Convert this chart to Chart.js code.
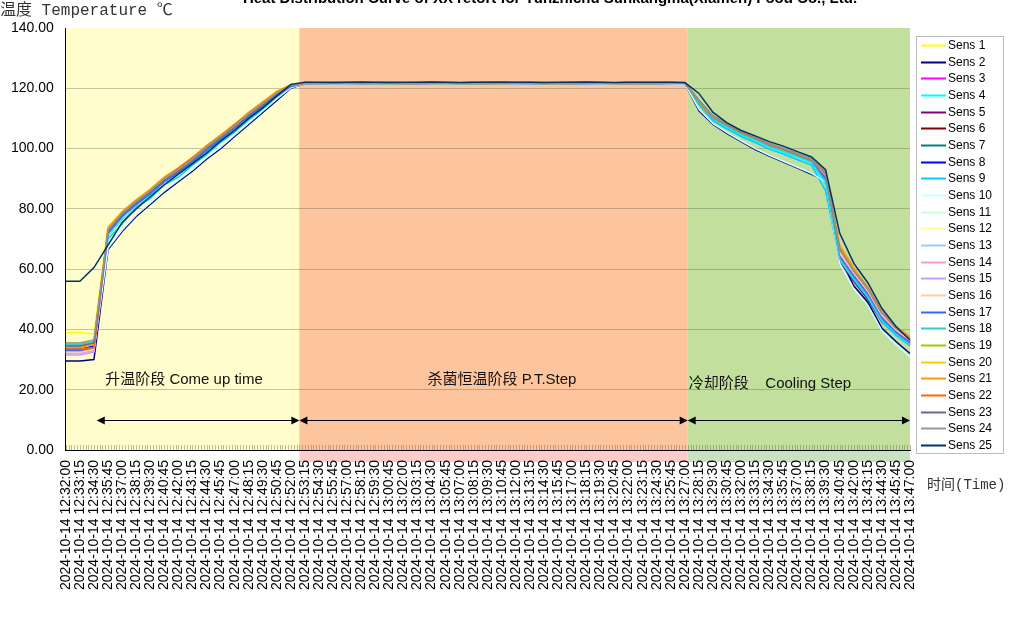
<!DOCTYPE html>
<html>
<head>
<meta charset="utf-8">
<script src="https://cdn.jsdelivr.net/npm/chart.js@4.4.1/dist/chart.umd.min.js"></script>
<style>
  html, body { margin: 0; padding: 0; background: #fff; }
  #wrap { width: 1021px; height: 633px; position: relative; }
</style>
</head>
<body>
<div id="wrap"><canvas id="heatChart"></canvas></div>
<script>
// 测点时间 (每 75 秒一个标签)
const day = "2024-10-14";
const times = [
  "12:32:00","12:33:15","12:34:30","12:35:45","12:37:00","12:38:15","12:39:30","12:40:45","12:42:00","12:43:15",
  "12:44:30","12:45:45","12:47:00","12:48:15","12:49:30","12:50:45","12:52:00","12:53:15","12:54:30","12:55:45",
  "12:57:00","12:58:15","12:59:30","13:00:45","13:02:00","13:03:15","13:04:30","13:05:45","13:07:00","13:08:15",
  "13:09:30","13:10:45","13:12:00","13:13:15","13:14:30","13:15:45","13:17:00","13:18:15","13:19:30","13:20:45",
  "13:22:00","13:23:15","13:24:30","13:25:45","13:27:00","13:28:15","13:29:30","13:30:45","13:32:00","13:33:15",
  "13:34:30","13:35:45","13:37:00","13:38:15","13:39:30","13:40:45","13:42:00","13:43:15","13:44:30","13:45:45",
  "13:47:00"
];

// 各测点温度 (升温 17 点 / 恒温 27 点 / 冷却 17 点)
const sens01 = [39,39,38.5,74,79,82.5,86,90,93,96.5,100.5,104,107.5,111.5,115,118.5,121,
  121.8,121.9,121.8,121.8,121.9,121.8,121.8,121.9,121.8,121.8,121.9,121.8,121.8,121.8,121.9,121.8,121.8,121.9,121.8,121.8,121.8,121.9,121.8,121.8,121.9,121.8,121.8,
  121.8,115.8,110.5,108,105.5,103.6,101.4,99.9,98.1,96.2,91.5,66,59,53,45,40,36.5];
const sens02 = [29.5,29.5,30,66.5,72.5,77.5,81.5,85.5,89,92.5,96.5,100,104,108,112,116,120,
  121.5,121.6,121.5,121.5,121.6,121.5,121.5,121.6,121.5,121.6,121.5,121.5,121.6,121.5,121.5,121.6,121.5,121.6,121.5,121.5,121.6,121.5,121.5,121.6,121.5,121.6,121.5,
  121.5,112.5,108,105,102.3,99.7,97.5,95.5,93.5,91.5,89.5,64,54.5,49,40.5,36,32];
const sens03 = [33.5,33.5,34.5,72.5,78,81.5,85.5,89,92.5,96,99.5,103.5,107,110.5,114.5,118,120.8,
  121.6,121.7,121.6,121.7,121.7,121.6,121.7,121.6,121.7,121.7,121.6,121.7,121.6,121.7,121.7,121.6,121.7,121.6,121.7,121.7,121.6,121.7,121.6,121.7,121.7,121.6,121.7,
  121.7,115.2,110,107.5,105,103.1,101,99.4,97.6,95.8,90,63.5,57,51,43.5,38.8,35.2];
const sens04 = [34.5,34.5,35.5,71,76.5,80.5,84.5,88,91.5,95,99,102.5,106,110,113.5,117,120.5,
  121.5,121.6,121.5,121.5,121.6,121.5,121.5,121.6,121.5,121.6,121.5,121.5,121.6,121.5,121.5,121.6,121.5,121.6,121.5,121.5,121.6,121.5,121.5,121.6,121.5,121.6,121.5,
  121.6,115,109.6,107,104.6,102.6,100.5,98.8,97,95.2,88,64,57.5,51.5,43.5,38.8,35.5];
const sens05 = [33,33,34,72,77.5,81.5,85,89,92,95.5,99.5,103,106.5,110.5,114,117.5,120.7,
  121.7,121.6,121.7,121.6,121.7,121.7,121.6,121.7,121.6,121.7,121.6,121.7,121.7,121.6,121.7,121.6,121.7,121.7,121.6,121.7,121.6,121.7,121.7,121.6,121.7,121.6,121.7,
  121.7,115.3,110.1,107.6,105.1,103.2,101,99.5,97.7,95.8,90.5,62.5,56,50,42.5,38.5,35];
const sens06 = [34,34,35,72.5,78,82,85.5,89.5,92.5,96,100,103.5,107,111,114.5,118,120.8,
  121.8,121.8,121.9,121.8,121.8,121.9,121.8,121.8,121.8,121.9,121.8,121.8,121.9,121.8,121.8,121.8,121.9,121.8,121.8,121.9,121.8,121.8,121.8,121.9,121.8,121.8,121.9,
  121.8,115.6,110.4,107.9,105.4,103.5,101.3,99.8,98,96.1,91.5,65.5,58.5,52.5,44.5,39.8,36.2];
const sens07 = [35,35,36,72,77.5,81.5,85,89,92,95.5,99.5,103,106.5,110.5,114,117.5,120.6,
  121.6,121.7,121.7,121.6,121.7,121.6,121.7,121.7,121.6,121.7,121.6,121.7,121.7,121.6,121.7,121.6,121.7,121.6,121.7,121.7,121.6,121.7,121.6,121.7,121.7,121.6,121.7,
  121.7,115.4,110.2,107.7,105.2,103.3,101.1,99.6,97.8,95.9,90.5,64.5,58,52,44,39.5,36];
const sens08 = [33.5,33.5,34.5,72.5,78,82,85.5,89.5,92.5,96,100,103.5,107,111,114.5,118,120.8,
  121.9,121.8,121.8,121.9,121.8,121.8,121.9,121.8,121.8,121.8,121.9,121.8,121.8,121.9,121.8,121.8,121.8,121.9,121.8,121.8,121.9,121.8,121.8,121.8,121.9,121.8,121.8,
  121.8,115.5,110.3,107.8,105.3,103.4,101.2,99.7,97.9,96,91,65,58.5,52.5,44.5,39.6,36];
const sens09 = [34,34,35,70,75,80.5,83.5,88,90.5,94.5,98,102,105.5,109.5,113,117,120.5,
  121.6,121.5,121.5,121.6,121.5,121.6,121.5,121.5,121.6,121.5,121.5,121.6,121.5,121.6,121.5,121.5,121.6,121.5,121.5,121.6,121.5,121.6,121.5,121.5,121.6,121.5,121.5,
  121.6,114.5,109.2,106.5,104,102,99.8,98.2,96.3,94.5,86,63,56.5,50.5,42.5,38,34.5];
const sens10 = [32.5,32.5,33,67,73,78,82,86,89.5,93,97,100.5,104.5,108.5,112.5,116.5,120.2,
  121.5,121.5,121.6,121.5,121.5,121.6,121.5,121.6,121.5,121.5,121.6,121.5,121.5,121.6,121.5,121.6,121.5,121.5,121.6,121.5,121.5,121.6,121.5,121.6,121.5,121.5,121.6,
  121.5,113,108.3,105.3,102.6,100,97.8,95.8,93.8,91.8,89,62,53.5,48,39.5,35,31];
const sens11 = [35,35,36,73,78.5,82,86,89.5,93,96.5,100,104,107.5,111,115,118.5,121,
  121.7,121.6,121.7,121.7,121.6,121.7,121.6,121.7,121.7,121.6,121.7,121.6,121.7,121.6,121.7,121.7,121.6,121.7,121.6,121.7,121.7,121.6,121.7,121.6,121.7,121.7,121.6,
  121.7,115.6,110.4,107.9,105.4,103.5,101.3,99.8,98,96.2,91.5,66,59,53,45,40.2,36.8];
const sens12 = [34,34,35,73.5,78.5,82.5,86,90,93,96.5,100.5,104,107.5,111.5,115,118.5,121,
  121.8,121.9,121.8,121.8,121.8,121.9,121.8,121.8,121.9,121.8,121.8,121.8,121.9,121.8,121.8,121.9,121.8,121.8,121.8,121.9,121.8,121.8,121.9,121.8,121.8,121.8,121.9,
  121.8,115.7,110.5,108,105.5,103.6,101.4,99.9,98.1,96.2,92,66.5,59.5,53.5,45.5,40.5,37];
const sens13 = [33,33,34,72,77.5,81.5,85,89,92,95.5,99.5,103,106.5,110.5,114,117.5,120.6,
  121.6,121.7,121.6,121.7,121.6,121.7,121.7,121.6,121.7,121.6,121.7,121.7,121.6,121.7,121.6,121.7,121.6,121.7,121.7,121.6,121.7,121.6,121.7,121.7,121.6,121.7,121.6,
  121.7,115.2,110,107.5,105,103.1,100.9,99.4,97.6,95.7,89.5,63.5,57,51,43,38.5,35];
const sens14 = [32,32,33,72.5,78,82,85.5,89.5,92.5,96,100,103.5,107,111,114.5,118,120.8,
  121.8,121.8,121.9,121.8,121.9,121.8,121.8,121.8,121.9,121.8,121.8,121.9,121.8,121.8,121.8,121.9,121.8,121.9,121.8,121.8,121.8,121.9,121.8,121.8,121.9,121.8,121.8,
  121.8,115.5,110.3,107.8,105.3,103.4,101.2,99.7,97.9,96,91,65,58.5,52.5,44.5,39.7,36.3];
const sens15 = [31.5,31.5,32.5,72,77.5,81.5,85.5,89,92.5,96,99.5,103.5,107,110.5,114.5,118,120.7,
  121.7,121.7,121.6,121.7,121.6,121.7,121.7,121.6,121.7,121.6,121.7,121.6,121.7,121.7,121.6,121.7,121.6,121.7,121.7,121.6,121.7,121.6,121.7,121.6,121.7,121.7,121.6,
  121.7,115.3,110.1,107.6,105.1,103.2,101,99.5,97.7,95.8,90,64,57.5,51.5,43.5,39,35.5];
const sens16 = [32.5,32.5,33.5,73,78,82,86,89.5,93,96.5,100,104,107.5,111,115,118.5,120.9,
  121.8,121.9,121.8,121.9,121.8,121.8,121.8,121.9,121.8,121.8,121.9,121.8,121.8,121.8,121.9,121.8,121.8,121.9,121.8,121.8,121.8,121.9,121.8,121.9,121.8,121.8,121.8,
  121.8,115.6,110.4,107.9,105.4,103.5,101.3,99.8,98,96.1,91.5,65.5,59,53,45,40,36.5];
const sens17 = [33,33,34,72,77.5,81.5,85,89,92,95.5,99.5,103,106.5,110.5,114,117.5,120.6,
  121.7,121.6,121.7,121.7,121.6,121.7,121.6,121.7,121.6,121.7,121.7,121.6,121.7,121.6,121.7,121.7,121.6,121.7,121.6,121.7,121.6,121.7,121.7,121.6,121.7,121.6,121.7,
  121.7,115.3,110.1,107.6,105.1,103.2,101,99.5,97.7,95.8,90,64,57.5,51.5,43.5,39,35.5];
const sens18 = [35,35,36,72.5,78,82,85.5,89.5,92.5,96,100,103.5,107,111,114.5,118,120.8,
  121.8,121.8,121.8,121.9,121.8,121.8,121.9,121.8,121.8,121.9,121.8,121.8,121.8,121.9,121.8,121.8,121.9,121.8,121.8,121.8,121.9,121.8,121.8,121.9,121.8,121.8,121.8,
  121.7,115.1,109.9,107.4,104.9,103,100.8,99.3,97.5,95.6,89,63.5,57,51,43,38.5,35];
const sens19 = [34.5,34.5,35.5,73,78.5,82.5,86,90,93,96.5,100.5,104,107.5,111.5,115,118.5,121,
  121.7,121.7,121.6,121.7,121.7,121.6,121.7,121.6,121.7,121.7,121.6,121.7,121.6,121.7,121.6,121.7,121.7,121.6,121.7,121.6,121.7,121.7,121.6,121.7,121.6,121.7,121.7,
  121.8,115.7,110.5,108,105.5,103.6,101.4,99.9,98.1,96.3,92,67,60,54,46,41,37.5];
const sens20 = [35.5,35.5,36.5,74,79,83,86.5,90.5,93.5,97,101,104.5,108,112,115.5,119,121.2,
  121.9,121.8,121.8,121.9,121.8,121.8,121.8,121.9,121.8,121.8,121.9,121.8,121.8,121.8,121.9,121.8,121.8,121.9,121.8,121.8,121.8,121.9,121.8,121.8,121.9,121.8,121.8,
  121.8,115.8,110.6,108.1,105.6,103.7,101.5,100,98.2,96.4,92,67,60,53.5,45.5,40.5,37];
const sens21 = [34,34,35,73.5,79,83,86.5,90.5,93.5,97,101,104.5,108,112,115.5,119,121.2,
  121.8,121.9,121.8,121.8,121.9,121.8,121.9,121.8,121.8,121.8,121.9,121.8,121.8,121.9,121.8,121.8,121.8,121.9,121.8,121.9,121.8,121.8,121.8,121.9,121.8,121.8,121.9,
  121.8,115.8,110.6,108.1,105.6,103.7,101.5,100,98.2,96.4,92.5,68,60.5,54,46,41,37.5];
const sens22 = [33.5,33.5,34,73,78.5,82.5,86,90,93.5,97,100.5,104,108,111.5,115,118.5,121,
  121.7,121.6,121.7,121.7,121.6,121.7,121.7,121.6,121.7,121.6,121.7,121.7,121.6,121.7,121.6,121.7,121.7,121.6,121.7,121.6,121.7,121.7,121.6,121.7,121.6,121.7,121.6,
  121.8,115.6,110.4,107.9,105.4,103.5,101.3,99.8,98,96.2,91.5,67,59.5,53.5,45.5,40.5,37];
const sens23 = [34.5,34.5,35.5,72.5,78,82,85.5,89.5,92.5,96,100,103.5,107,111,114.5,118,120.8,
  121.8,121.8,121.9,121.8,121.8,121.8,121.9,121.8,121.9,121.8,121.8,121.8,121.9,121.8,121.8,121.9,121.8,121.8,121.8,121.9,121.8,121.9,121.8,121.8,121.8,121.9,121.8,
  121.8,116,110.8,108.2,105.7,103.8,101.6,100.1,98.3,96.5,92,66.5,59.5,53.5,45.5,40.5,36.8];
const sens24 = [35.5,35.5,36.5,73,78.5,82.5,86,90,93,96.5,100.5,104,107.5,111.5,115,118.5,121,
  121.6,121.7,121.7,121.6,121.7,121.6,121.7,121.7,121.6,121.7,121.6,121.7,121.6,121.7,121.7,121.6,121.7,121.6,121.7,121.7,121.6,121.7,121.6,121.7,121.6,121.7,121.7,
  121.8,115.9,110.7,108.2,105.7,103.8,101.6,100.1,98.3,96.4,92,66.5,59.5,53.5,45.5,40.5,37];
const sens25 = [56,56,60.5,68,75.5,80,84,88,91.5,95,98.5,102.5,106,110,113.5,117.5,121.3,
  122.0,122.0,121.9,122.0,122.1,122.0,121.9,122.0,122.0,122.1,122.0,121.9,122.0,122.0,122.1,122.0,122.0,121.9,122.0,122.0,122.1,122.0,121.9,122.0,122.0,122.0,122.0,
  121.9,118.3,112,108.5,106,104.2,102.3,100.8,99,97.2,93,72,62,55.5,47,41,36.5];

const sensorSeries = [sens01,sens02,sens03,sens04,sens05,sens06,sens07,sens08,sens09,sens10,
  sens11,sens12,sens13,sens14,sens15,sens16,sens17,sens18,sens19,sens20,sens21,sens22,sens23,sens24,sens25];
const sensorNames = sensorSeries.map((s, i) => "Sens " + (i + 1));
const sensorColors = ["#FFFF00","#000080","#FF00FF","#00FFFF","#800080","#800000","#008080","#0000FF",
  "#00CCFF","#CCFFFF","#CCFFCC","#FFFF99","#99CCFF","#FF99CC","#CC99FF","#FFCC99","#3366FF","#33CCCC",
  "#99CC00","#FFCC00","#FF9900","#FF6600","#666699","#969696","#003366"];

// 阶段
const phaseBounds = ["12:32:00", "12:52:45", "13:27:15", "13:47:00"];
const arrowStarts = ["12:34:45", "12:52:45", "13:27:15"];
const phaseColors = ["#FFFDCB", "#FDC59D", "#C2DF9D"];
const phaseUnder = ["rgba(255,255,255,0)", "#FFCACA", "#C6E2C2"];
const phaseTexts = ["升温阶段 Come up time", "杀菌恒温阶段 P.T.Step", "冷却阶段    Cooling Step"];
const phaseTextAt = ["12:35:30", "13:10:45", "13:27:20"];
const phaseTextAlign = ["left", "center", "left"];
const phaseTextTemp = [23.2, 23.2, 21.8];
const arrowTemp = 10;

// "12:34:45" -> 类别轴上的位置 (每 75 秒一格)
function timeIndex(t) {
  const p = t.split(":").map(Number);
  const sec = (p[0] * 3600 + p[1] * 60 + p[2]) - (12 * 3600 + 32 * 60);
  return sec / 75;
}

function arrowHead(ctx, x, y, dir) {
  ctx.beginPath();
  ctx.moveTo(x, y);
  ctx.lineTo(x - dir * 8, y - 4);
  ctx.lineTo(x - dir * 8, y + 4);
  ctx.closePath();
  ctx.fill();
}

const phasePlugin = {
  id: "phases",
  beforeDraw(chart) {
    const { ctx, chartArea: a, scales: { x } } = chart;
    ctx.save();
    phaseColors.forEach((c, k) => {
      const x0 = k === 0 ? a.left : x.getPixelForValue(timeIndex(phaseBounds[k]));
      const x1 = k === phaseColors.length - 1 ? a.right : x.getPixelForValue(timeIndex(phaseBounds[k + 1]));
      ctx.fillStyle = c;
      ctx.fillRect(x0, a.top, x1 - x0, a.bottom - a.top);
      ctx.fillStyle = phaseUnder[k];
      ctx.fillRect(x0, a.bottom, x1 - x0, 12);
    });
    // 小刻度 (15 秒)
    ctx.strokeStyle = "rgba(120,105,70,0.45)";
    ctx.lineWidth = 1;
    const last = times.length - 1;
    for (let k = 0; k <= last * 5; k++) {
      const px = Math.round(x.getPixelForValue(k / 5)) + 0.5;
      ctx.beginPath();
      ctx.moveTo(px, a.bottom - 5);
      ctx.lineTo(px, a.bottom);
      ctx.stroke();
    }
    ctx.restore();
  },
  afterDatasetsDraw(chart) {
    const { ctx, scales: { x, y } } = chart;
    ctx.save();
    // 阶段箭头
    const ay = Math.round(y.getPixelForValue(arrowTemp)) + 0.5;
    ctx.strokeStyle = "#000";
    ctx.fillStyle = "#000";
    ctx.lineWidth = 1.2;
    arrowStarts.forEach((s, k) => {
      const x0 = x.getPixelForValue(timeIndex(s));
      const x1 = x.getPixelForValue(timeIndex(phaseBounds[k + 1]));
      ctx.beginPath();
      ctx.moveTo(x0 + 2, ay);
      ctx.lineTo(x1 - 2, ay);
      ctx.stroke();
      arrowHead(ctx, x0, ay, -1);
      arrowHead(ctx, x1, ay, 1);
    });
    // 阶段文字
    ctx.font = "15px 'Liberation Sans', 'Noto Sans CJK SC', sans-serif";
    ctx.textBaseline = "middle";
    ctx.fillStyle = "#111";
    phaseTexts.forEach((t, k) => {
      ctx.textAlign = phaseTextAlign[k];
      ctx.fillText(t, x.getPixelForValue(timeIndex(phaseTextAt[k])), y.getPixelForValue(phaseTextTemp[k]));
    });
    ctx.restore();
  },
  afterDraw(chart) {
    const { ctx } = chart;
    ctx.save();
    // 标题 (上半部分在画面之外)
    ctx.font = "bold 15px 'Liberation Sans', Arial, sans-serif";
    ctx.fillStyle = "#000";
    ctx.textAlign = "center";
    ctx.textBaseline = "alphabetic";
    ctx.fillText("Heat Distribution Curve of XX retort for Yunzhichu Sunkangma(Xiamen) Food Co., Ltd.", 550, 3);
    // 轴标题
    ctx.textAlign = "left";
    ctx.fillStyle = "#333";
    ctx.font = "16px 'Liberation Mono', 'Noto Sans CJK SC', monospace";
    ctx.fillText("温度 Temperature ℃", 0, 15);
    ctx.font = "14px 'Liberation Mono', 'Noto Sans CJK SC', monospace";
    ctx.fillText("时间(Time)", 927, 489);
    // 图例
    const lx = 916, ly = 36, lw = 87, lh = 417;
    ctx.fillStyle = "#fff";
    ctx.fillRect(lx, ly, lw, lh);
    ctx.strokeStyle = "#bdbdbd";
    ctx.lineWidth = 1;
    ctx.strokeRect(lx + 0.5, ly + 0.5, lw, lh);
    ctx.font = "12px 'Liberation Sans', Arial, sans-serif";
    ctx.textBaseline = "middle";
    chart.data.datasets.forEach((ds, i) => {
      const cy = Math.round(45 + i * 16.67) + 0.5;
      ctx.strokeStyle = ds.borderColor;
      ctx.lineWidth = 2;
      ctx.beginPath();
      ctx.moveTo(921, cy);
      ctx.lineTo(946, cy);
      ctx.stroke();
      ctx.fillStyle = "#000";
      ctx.fillText(ds.label, 948, cy);
    });
    ctx.restore();
  }
};

Chart.defaults.font.family = "'Liberation Sans', Arial, sans-serif";
Chart.defaults.color = "#000";

const ctx = document.getElementById("heatChart").getContext("2d");
new Chart(ctx, {
  type: "line",
  data: {
    labels: times.map(t => day + " " + t),
    datasets: sensorSeries.map((s, i) => ({
      label: sensorNames[i],
      data: s,
      borderColor: sensorColors[i],
      backgroundColor: sensorColors[i],
      borderWidth: 1.5,
      pointRadius: 0,
      tension: 0,
      fill: false,
      order: sensorSeries.length - i
    }))
  },
  options: {
    responsive: true,
    maintainAspectRatio: false,
    animation: false,
    events: [],
    layout: { padding: { left: -1, right: 111, top: 28, bottom: 33 } },
    plugins: {
      legend: { display: false },
      tooltip: { enabled: false }
    },
    scales: {
      x: {
        type: "category",
        offset: false,
        grid: { display: false, drawTicks: false },
        border: { display: true, color: "#000", width: 1 },
        ticks: {
          autoSkip: false,
          maxRotation: 90,
          minRotation: 90,
          padding: 10,
          font: { size: 14 },
          color: "#000"
        }
      },
      y: {
        min: 0,
        max: 140,
        grid: {
          drawTicks: false,
          color: c => (c.tick.value === 0 || c.tick.value === 140) ? "rgba(0,0,0,0)" : "rgba(90,90,70,0.35)"
        },
        border: { display: true, color: "#000", width: 1 },
        ticks: {
          stepSize: 20,
          padding: 12,
          font: { size: 14 },
          color: "#000",
          callback: v => v.toFixed(2)
        }
      }
    }
  },
  plugins: [phasePlugin]
});
</script>
</body>
</html>
